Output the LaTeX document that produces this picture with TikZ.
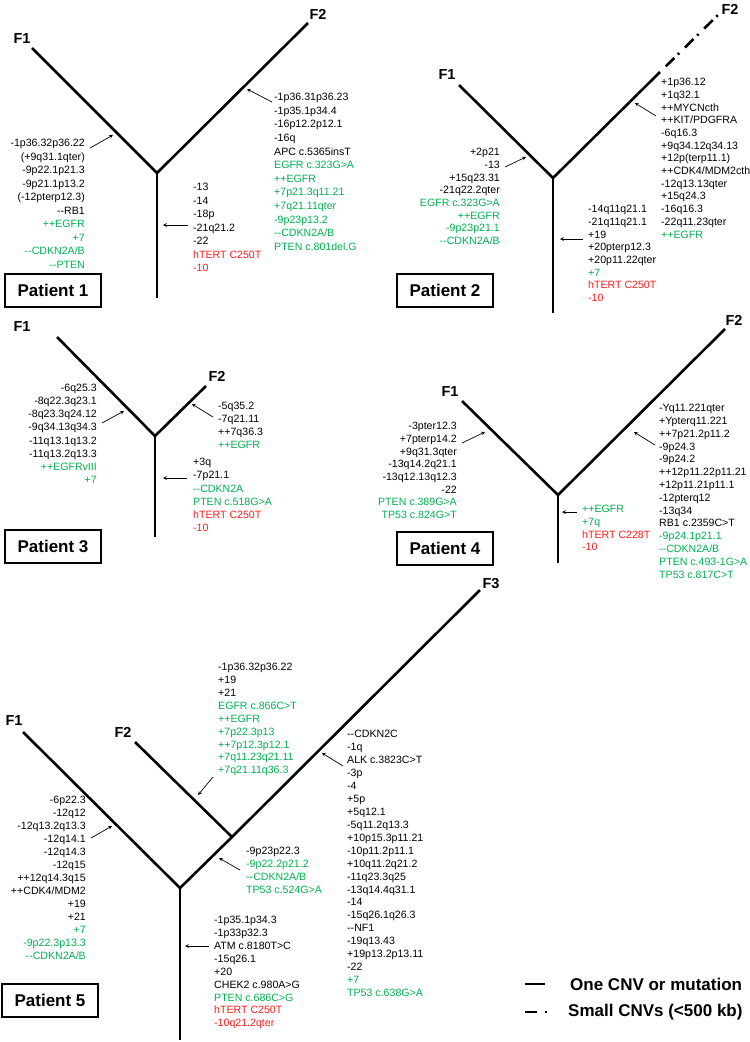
\documentclass[tikz,border=0pt]{standalone}
\usepackage{fontspec}
\setmainfont{Liberation Sans}[Ligatures=TeXOff]
\definecolor{cnvgreen}{RGB}{0,176,80}
\definecolor{cnvred}{RGB}{255,30,30}
\newcommand{\ingreen}[1]{\textcolor{cnvgreen}{#1}}
\newcommand{\inred}[1]{\textcolor{cnvred}{#1}}
\begin{document}
\begin{tikzpicture}[x=1pt, y=-1pt,
      branch/.style={line width=2.6pt},
      arrow/.style={->, >=stealth, line width=0.7pt},
      clone/.style={inner sep=0pt, font=\bfseries\fontsize{14.5}{16}\selectfont},
      patient/.style={rectangle, draw, line width=2pt, minimum width=96pt, minimum height=33pt, inner sep=0pt, font=\bfseries\fontsize{17}{19}\selectfont},
      cnvl/.style={anchor=north west, align=left, inner sep=0pt, font=\fontsize{10.6}{#1}\selectfont},
      cnvl/.default=13,
      cnvr/.style={anchor=north east, align=right, inner sep=0pt, font=\fontsize{10.6}{#1}\selectfont},
      cnvr/.default=13,
      legend/.style={anchor=west, inner sep=0pt, font=\bfseries\fontsize{17}{19}\selectfont}
  ]
  \useasboundingbox (0,0) rectangle (750,1042);

  % Patient 1
  \node[clone] (p1F1) at (22,39) {F1};
  \node[clone] (p1F2) at (318,14) {F2};
  \coordinate (p1f1) at (32,48);
  \coordinate (p1f2) at (308,23);
  \coordinate (p1j) at (157,173);
  \coordinate (p1r) at (157,298);
  \draw[branch] (p1f1) -- (p1j) -- (p1f2);
  \draw[branch] (p1j) -- (p1r);
  \node[cnvr=13.5] (p1t1) at (85,139) {-1p36.32p36.22\\(+9q31.1qter)\\-9p22.1p21.3\\-9p21.1p13.2\\(-12pterp12.3)\\--RB1\\\ingreen{++EGFR}\\\ingreen{+7}\\\ingreen{--CDKN2A/B}\\\ingreen{--PTEN}};
  \node[cnvl=13.6] (p1t2) at (274,93) {-1p36.31p36.23\\-1p35.1p34.4\\-16p12.2p12.1\\-16q\\APC c.5365insT\\\ingreen{EGFR c.323G>A}\\\ingreen{++EGFR}\\\ingreen{+7p21.3q11.21}\\\ingreen{+7q21.11qter}\\\ingreen{-9p23p13.2}\\\ingreen{--CDKN2A/B}\\\ingreen{PTEN c.801del.G}};
  \node[cnvl=13.5] (p1t3) at (193,183) {-13\\-14\\-18p\\-21q21.2\\-22\\\inred{hTERT C250T}\\\inred{-10}};
  \node[patient] (p1box) at (53,290) {Patient 1};
  \coordinate (p1s1) at (90,148);  \coordinate (p1e1) at (113,135);
  \coordinate (p1s2) at (272,102); \coordinate (p1e2) at (247,89);
  \coordinate (p1s3) at (188,225); \coordinate (p1e3) at (163,225);
  \draw[arrow] (p1s1) -- (p1e1);
  \draw[arrow] (p1s2) -- (p1e2);
  \draw[arrow] (p1s3) -- (p1e3);

  % Patient 2
  \node[clone] (p2F1) at (447,75) {F1};
  \node[clone] (p2F2) at (730,9) {F2};
  \coordinate (p2f1) at (459,85);
  \coordinate (p2f2) at (660,72);
  \coordinate (p2f2e) at (718,15);
  \coordinate (p2j) at (553,178);
  \coordinate (p2r) at (553,313);
  \draw[branch] (p2f1) -- (p2j) -- (p2f2);
  \draw[branch] (p2j) -- (p2r);
  \draw[branch, dash pattern=on 12pt off 5pt on 2pt off 8pt, dash phase=19pt] (p2f2) -- (p2f2e);
  \node[cnvr=12.7] (p2t1) at (500,148) {+2p21\\-13\\+15q23.31\\-21q22.2qter\\\ingreen{EGFR c.323G>A}\\\ingreen{++EGFR}\\\ingreen{-9p23p21.1}\\\ingreen{--CDKN2A/B}};
  \node[cnvl=12.7] (p2t2) at (661,78) {+1p36.12\\+1q32.1\\++MYCNcth\\++KIT/PDGFRA\\-6q16.3\\+9q34.12q34.13\\+12p(terp11.1)\\++CDK4/MDM2cth\\-12q13.13qter\\+15q24.3\\-16q16.3\\-22q11.23qter\\\ingreen{++EGFR}};
  \node[cnvl=12.7] (p2t3) at (588,205) {-14q11q21.1\\-21q11q21.1\\+19\\+20pterp12.3\\+20p11.22qter\\\ingreen{+7}\\\inred{hTERT C250T}\\\inred{-10}};
  \node[patient] (p2box) at (445,290) {Patient 2};
  \coordinate (p2s1) at (505,167); \coordinate (p2e1) at (526,157);
  \coordinate (p2s2) at (656,116); \coordinate (p2e2) at (635,103);
  \coordinate (p2s3) at (583,239); \coordinate (p2e3) at (560,239);
  \draw[arrow] (p2s1) -- (p2e1);
  \draw[arrow] (p2s2) -- (p2e2);
  \draw[arrow] (p2s3) -- (p2e3);

  % Patient 3
  \node[clone] (p3F1) at (22,327) {F1};
  \node[clone] (p3F2) at (217,376) {F2};
  \coordinate (p3f1) at (57,337);
  \coordinate (p3f2) at (206,386);
  \coordinate (p3j) at (155,436);
  \coordinate (p3r) at (155,537);
  \draw[branch] (p3f1) -- (p3j) -- (p3f2);
  \draw[branch] (p3j) -- (p3r);
  \node[cnvr=13.1] (p3t1) at (97,384) {-6q25.3\\-8q22.3q23.1\\-8q23.3q24.12\\-9q34.13q34.3\\-11q13.1q13.2\\-11q13.2q13.3\\\ingreen{++EGFRvIII}\\\ingreen{+7}};
  \node[cnvl] (p3t2) at (218,402) {-5q35.2\\-7q21.11\\++7q36.3\\\ingreen{++EGFR}};
  \node[cnvl=13.2] (p3t3) at (193,458) {+3q\\-7p21.1\\\ingreen{--CDKN2A}\\\ingreen{PTEN c.518G>A}\\\inred{hTERT C250T}\\\inred{-10}};
  \node[patient] (p3box) at (53,546) {Patient 3};
  \coordinate (p3s1) at (102,423); \coordinate (p3e1) at (124,411);
  \coordinate (p3s2) at (213,417); \coordinate (p3e2) at (192,404);
  \coordinate (p3s3) at (187,478); \coordinate (p3e3) at (163,478);
  \draw[arrow] (p3s1) -- (p3e1);
  \draw[arrow] (p3s2) -- (p3e2);
  \draw[arrow] (p3s3) -- (p3e3);

  % Patient 4
  \node[clone] (p4F1) at (450,392) {F1};
  \node[clone] (p4F2) at (734,320) {F2};
  \coordinate (p4f1) at (462,401);
  \coordinate (p4f2) at (725,329);
  \coordinate (p4j) at (558,495);
  \coordinate (p4r) at (558,563);
  \draw[branch] (p4f1) -- (p4j) -- (p4f2);
  \draw[branch] (p4j) -- (p4r);
  \node[cnvr=12.7] (p4t1) at (457,422) {-3pter12.3\\+7pterp14.2\\+9q31.3qter\\-13q14.2q21.1\\-13q12.13q12.3\\-22\\\ingreen{PTEN c.389G>A}\\\ingreen{TP53 c.824G>T}};
  \node[cnvl=12.8] (p4t2) at (659,404) {-Yq11.221qter\\+Ypterq11.221\\++7p21.2p11.2\\-9p24.3\\-9p24.2\\++12p11.22p11.21\\+12p11.21p11.1\\-12pterq12\\-13q34\\RB1 c.2359C>T\\\ingreen{-9p24.1p21.1}\\\ingreen{--CDKN2A/B}\\\ingreen{PTEN c.493-1G>A}\\\ingreen{TP53 c.817C>T}};
  \node[cnvl=12.7] (p4t3) at (582,505) {\ingreen{++EGFR}\\\ingreen{+7q}\\\inred{hTERT C228T}\\\inred{-10}};
  \node[patient] (p4box) at (445,548) {Patient 4};
  \coordinate (p4s1) at (462,443); \coordinate (p4e1) at (485,432);
  \coordinate (p4s2) at (655,445); \coordinate (p4e2) at (634,432);
  \coordinate (p4s3) at (577,512); \coordinate (p4e3) at (562,512);
  \draw[arrow] (p4s1) -- (p4e1);
  \draw[arrow] (p4s2) -- (p4e2);
  \draw[arrow] (p4s3) -- (p4e3);

  % Patient 5
  \node[clone] (p5F1) at (14,721) {F1};
  \node[clone] (p5F2) at (123,732) {F2};
  \node[clone] (p5F3) at (491,584) {F3};
  \coordinate (p5f1) at (23,732);
  \coordinate (p5f2) at (135,742);
  \coordinate (p5f3) at (480,590);
  \coordinate (p5j0) at (180,888);
  \coordinate (p5j1) at (232,837);
  \coordinate (p5r) at (180,1040);
  \draw[branch] (p5f1) -- (p5j0) -- (p5j1) -- (p5f3);
  \draw[branch] (p5f2) -- (p5j1);
  \draw[branch] (p5j0) -- (p5r);
  \node[cnvr] (p5t1) at (86,796) {-6p22.3\\-12q12\\-12q13.2q13.3\\-12q14.1\\-12q14.3\\-12q15\\++12q14.3q15\\++CDK4/MDM2\\+19\\+21\\\ingreen{+7}\\\ingreen{-9p22.3p13.3}\\\ingreen{--CDKN2A/B}};
  \node[cnvl=12.9] (p5t2) at (218,663) {-1p36.32p36.22\\+19\\+21\\\ingreen{EGFR c.866C>T}\\\ingreen{++EGFR}\\\ingreen{+7p22.3p13}\\\ingreen{++7p12.3p12.1}\\\ingreen{+7q11.23q21.11}\\\ingreen{+7q21.11q36.3}};
  \node[cnvl] (p5t3) at (246,847) {-9p23p22.3\\\ingreen{-9p22.2p21.2}\\\ingreen{--CDKN2A/B}\\\ingreen{TP53 c.524G>A}};
  \node[cnvl=12.95] (p5t4) at (347,730) {--CDKN2C\\-1q\\ALK c.3823C>T\\-3p\\-4\\+5p\\+5q12.1\\-5q11.2q13.3\\+10p15.3p11.21\\-10p11.2p11.1\\+10q11.2q21.2\\-11q23.3q25\\-13q14.4q31.1\\-14\\-15q26.1q26.3\\--NF1\\-19q13.43\\+19p13.2p13.11\\-22\\\ingreen{+7}\\\ingreen{TP53 c.638G>A}};
  \node[cnvl=12.9] (p5t5) at (214,916) {-1p35.1p34.3\\-1p33p32.3\\ATM c.8180T>C\\-15q26.1\\+20\\CHEK2 c.980A>G\\\ingreen{PTEN c.686C>G}\\\inred{hTERT C250T}\\\inred{-10q21.2qter}};
  \node[patient] (p5box) at (50,1000) {Patient 5};
  \coordinate (p5s1) at (91,838);  \coordinate (p5e1) at (112,826);
  \coordinate (p5s2) at (213,777); \coordinate (p5e2) at (198,795);
  \coordinate (p5s3) at (240,870); \coordinate (p5e3) at (219,858);
  \coordinate (p5s4) at (343,766); \coordinate (p5e4) at (322,753);
  \coordinate (p5s5) at (209,946); \coordinate (p5e5) at (185,946);
  \draw[arrow] (p5s1) -- (p5e1);
  \draw[arrow] (p5s2) -- (p5e2);
  \draw[arrow] (p5s3) -- (p5e3);
  \draw[arrow] (p5s4) -- (p5e4);
  \draw[arrow] (p5s5) -- (p5e5);

  % Legend
  \coordinate (lg1a) at (525,984); \coordinate (lg1b) at (545,984);
  \coordinate (lg2a) at (525,1012); \coordinate (lg2b) at (549,1012);
  \draw[branch] (lg1a) -- (lg1b);
  \draw[branch, dash pattern=on 12pt off 8pt on 2pt off 8pt] (lg2a) -- (lg2b);
  \node[legend] (lgone) at (570,984) {One CNV or mutation};
  \node[legend] (lgsmall) at (568,1012) {Small CNVs (<500 kb)};

\end{tikzpicture}
\end{document}
